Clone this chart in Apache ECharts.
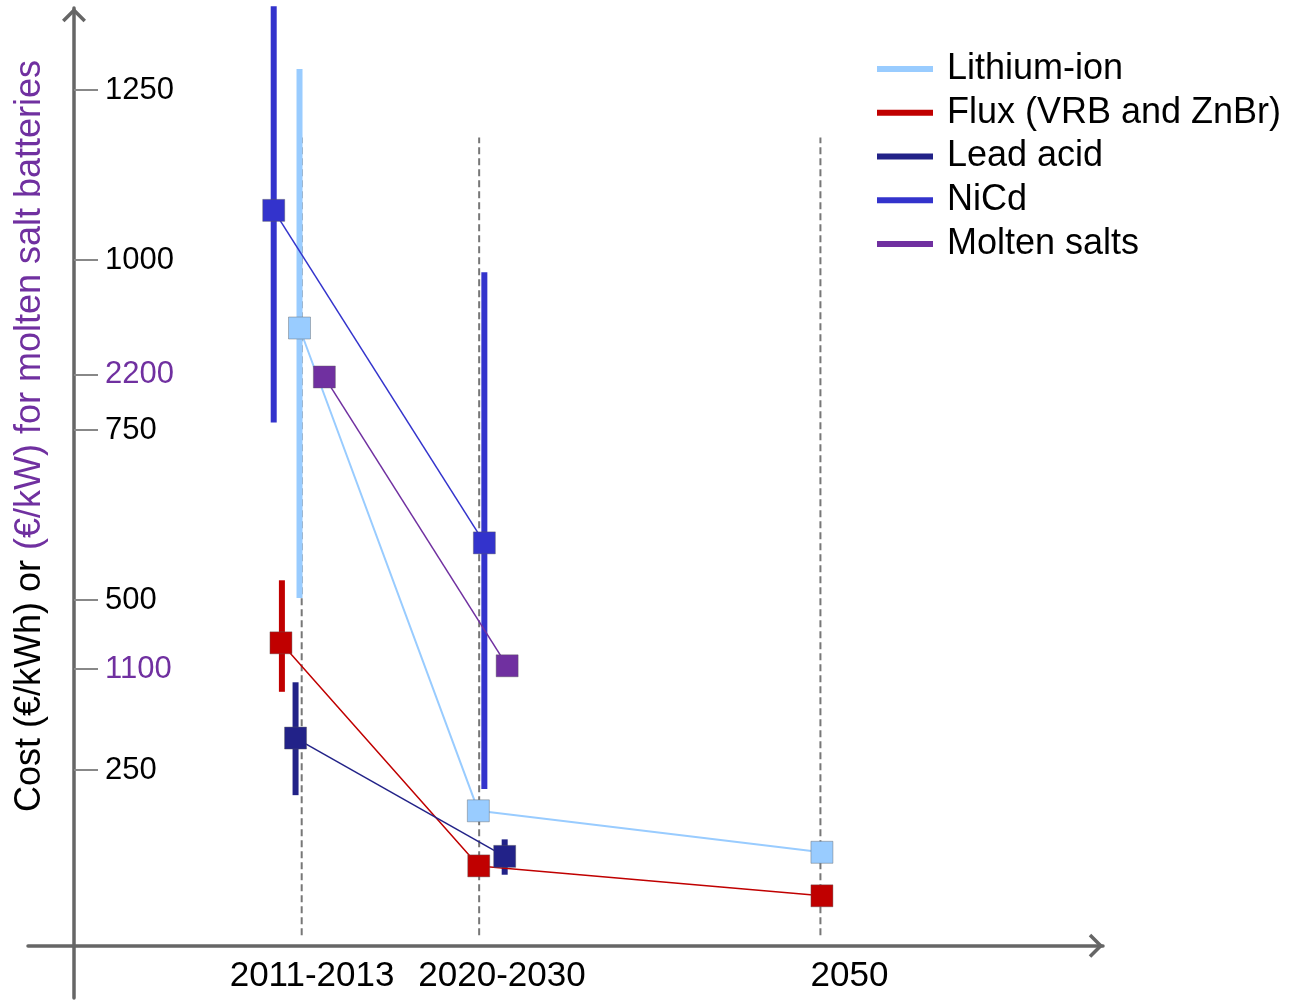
<!DOCTYPE html>
<html><head><meta charset="utf-8">
<script src="https://cdn.jsdelivr.net/npm/echarts@6/dist/echarts.min.js"></script>
<style>html,body{margin:0;padding:0;background:#fff}#chart{width:1296px;height:1001px}</style>
</head><body><div id="chart"></div>
<script>
// ---------- data ----------
const seriesNames = ['Lithium-ion', 'Flux (VRB and ZnBr)', 'Lead acid', 'NiCd', 'Molten salts'];
const seriesColors = ['#99ccff', '#c00000', '#222288', '#3333cc', '#7030a0'];

// x positions on a year scale, values in €/kWh (molten salts in €/kW)
const liionX = [2011.84, 2024.94, 2050.11];
const liionY = [900, 190, 129];
const fluxX = [2010.48, 2024.97, 2050.11];
const fluxY = [437, 109, 65];
const leadX = [2011.55, 2026.87];
const leadY = [297, 123];
const nicdX = [2009.95, 2025.38];
const nicdY = [1073, 584];
const moltenX = [2013.66, 2027.05];
const moltenY = [2190, 1112];

// cost ranges (vertical bars)
const liionRangeX = [2011.84];
const liionLow = [503];
const liionHigh = [1281];
const fluxRangeX = [2010.55];
const fluxLow = [365];
const fluxHigh = [529];
const leadRangeX = [2011.55, 2026.87];
const leadLow = [213, 96];
const leadHigh = [379, 148];
const nicdRangeX = [2009.95, 2025.38];
const nicdLow = [761, 222];
const nicdHigh = [1373, 982];

// period guide lines
const periodYears = [2012, 2025, 2050];
const periodLow = 7;
const periodHigh = 1180;

// axis labels
const xLabelPos = [2012.76, 2026.67, 2052.13];
const xLabels = ['2011-2013', '2020-2030', '2050'];
const yTicks = [250, 500, 750, 1000, 1250];
const moltenTicks = [1100, 2200];

// ---------- chart ----------
const FONT = 'Liberation Sans, Arial, Helvetica, sans-serif';
const AXIS_COLOR = '#666666';
const CHEVRON = 'path://M0 12 L12 0 L24 12 L21.5 14.5 L12 5 L2.5 14.5 Z';

function pts(xs, ys) { return xs.map((x, i) => [x, ys[i]]); }

function lineSeries(idx, xs, ys, yAxisIndex, lw) {
  const c = seriesColors[idx];
  return {
    type: 'line', name: seriesNames[idx], yAxisIndex: yAxisIndex,
    data: pts(xs, ys),
    symbol: 'rect', symbolSize: 22,
    itemStyle: { color: c, borderColor: 'rgba(90,90,90,0.4)', borderWidth: 1 },
    lineStyle: { color: c, width: lw },
    z: 4, animation: false, silent: true
  };
}

function rangeSeries(idx, xs, lows, highs) {
  const c = seriesColors[idx];
  return {
    type: 'custom', name: seriesNames[idx] + ' range',
    data: xs.map((x, i) => [x, lows[i], highs[i]]),
    encode: { x: 0, y: [1, 2] },
    renderItem: function (params, api) {
      const p1 = api.coord([api.value(0), api.value(1)]);
      const p2 = api.coord([api.value(0), api.value(2)]);
      return { type: 'rect', shape: { x: p1[0] - 3, y: p2[1], width: 6, height: p1[1] - p2[1] }, style: { fill: c } };
    },
    z: 3, silent: true, animation: false
  };
}

const guideSeries = {
  type: 'custom', name: 'periods',
  data: periodYears.map(y => [y, periodLow, periodHigh]),
  encode: { x: 0, y: [1, 2] },
  renderItem: function (params, api) {
    const p1 = api.coord([api.value(0), api.value(1)]);
    const p2 = api.coord([api.value(0), api.value(2)]);
    return { type: 'line', shape: { x1: p1[0], y1: p1[1], x2: p2[0], y2: p2[1] },
      style: { stroke: '#777777', lineWidth: 2, lineDash: [7, 4] } };
  },
  z: 2, silent: true, animation: false
};

const chart = echarts.init(document.getElementById('chart'), null, { renderer: 'canvas' });
chart.setOption({
  animation: false,
  backgroundColor: '#ffffff',
  grid: { left: 28, right: 193, top: 8, bottom: 3 },
  xAxis: {
    type: 'value', min: 1991.95, max: 2070.7, position: 'bottom', offset: -52.3,
    axisLine: { show: true, onZero: false, lineStyle: { color: AXIS_COLOR, width: 3.5 },
      symbol: ['none', CHEVRON], symbolSize: [24, 14.5], symbolOffset: [0, -7] },
    axisTick: { show: false },
    splitLine: { show: false },
    axisLabel: {
      customValues: xLabelPos, margin: 13,
      formatter: function (v) {
        let best = 0;
        xLabelPos.forEach((p, i) => { if (Math.abs(p - v) < Math.abs(xLabelPos[best] - v)) best = i; });
        return xLabels[best];
      },
      fontSize: 35, color: '#000', fontFamily: FONT
    }
  },
  yAxis: [{
    type: 'value', min: -85.29, max: 1370.59, position: 'left', offset: -46,
    axisLine: { show: true, onZero: false, lineStyle: { color: AXIS_COLOR, width: 3.5 },
      symbol: ['none', CHEVRON], symbolSize: [24, 14.5], symbolOffset: [0, -7] },
    axisTick: { show: true, inside: true, length: 24, customValues: yTicks, lineStyle: { color: '#888888', width: 2 } },
    axisLabel: { inside: true, customValues: yTicks, margin: 31, fontSize: 31, color: '#000', fontFamily: FONT,
      formatter: function (v) { return String(v); } },
    splitLine: { show: false }
  }, {
    type: 'value', min: -128.0, max: 3567.2, position: 'left', offset: -46,
    axisLine: { show: false, onZero: false },
    axisTick: { show: true, inside: true, length: 24, customValues: moltenTicks, lineStyle: { color: '#888888', width: 2 } },
    axisLabel: { inside: true, customValues: moltenTicks, margin: 31, fontSize: 31, color: '#7030a0', fontFamily: FONT,
      formatter: function (v) { return String(v); } },
    splitLine: { show: false }
  }],
  legend: {
    orient: 'vertical', left: 872, top: 46,
    itemWidth: 56, itemHeight: 6, itemGap: 7.75, icon: 'rect',
    data: seriesNames, selectedMode: false,
    itemStyle: { borderWidth: 0 },
    textStyle: { fontSize: 36, lineHeight: 36, color: '#000', fontFamily: FONT, padding: [0, 0, 0, 9] }
  },
  graphic: [{
    type: 'text', x: 30, y: 436, rotation: Math.PI / 2,
    style: {
      text: '{a|Cost (€/kWh) or }{b|(€/kW) for molten salt batteries}',
      rich: {
        a: { fill: '#000', fontSize: 36, fontFamily: FONT },
        b: { fill: '#7030a0', fontSize: 36, fontFamily: FONT }
      },
      align: 'center', verticalAlign: 'middle'
    }
  }],
  series: [
    guideSeries,
    rangeSeries(0, liionRangeX, liionLow, liionHigh),
    rangeSeries(1, fluxRangeX, fluxLow, fluxHigh),
    rangeSeries(2, leadRangeX, leadLow, leadHigh),
    rangeSeries(3, nicdRangeX, nicdLow, nicdHigh),
    lineSeries(0, liionX, liionY, 0, 2),
    lineSeries(1, fluxX, fluxY, 0, 1.5),
    lineSeries(2, leadX, leadY, 0, 1.5),
    lineSeries(3, nicdX, nicdY, 0, 1.5),
    lineSeries(4, moltenX, moltenY, 1, 1.5)
  ]
});
</script>
</body></html>
